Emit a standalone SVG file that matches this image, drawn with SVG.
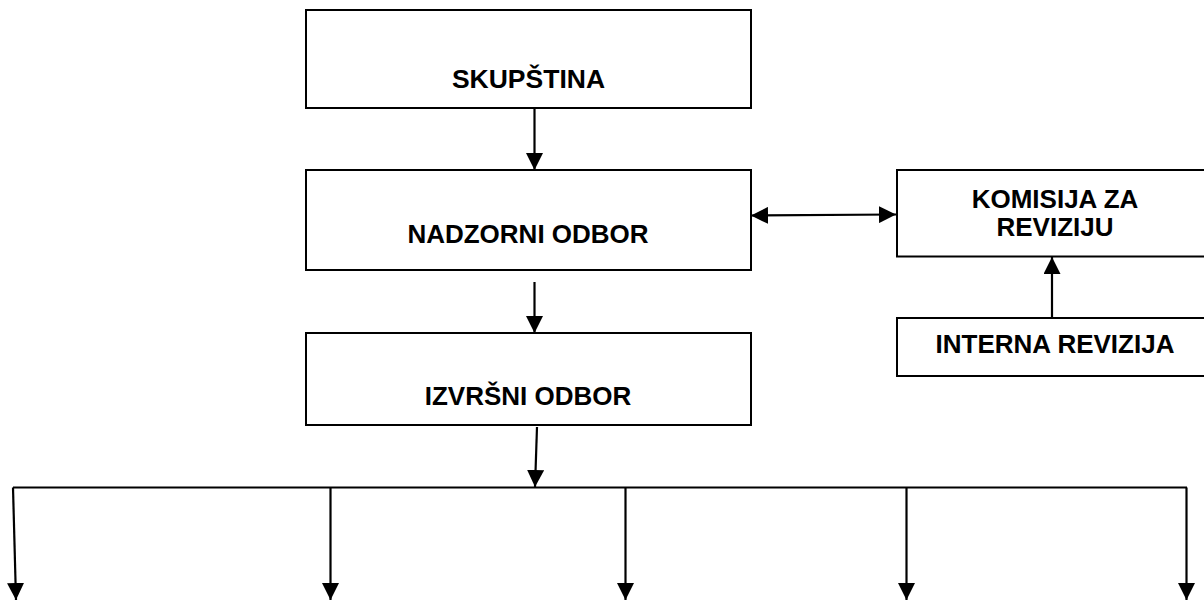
<svg xmlns="http://www.w3.org/2000/svg" width="1204" height="601" viewBox="0 0 1204 601">
<style>
.box{fill:#fff;stroke:#000;stroke-width:2}
.lbl{font-family:"Liberation Sans",Arial,sans-serif;font-weight:bold;font-size:26px;fill:#000;text-anchor:middle}
.con{fill:none;stroke:#000;stroke-width:2.2}
.arr{marker-end:url(#ah)}
</style>
<defs>
<marker id="ah" viewBox="0 0 16 16" refX="16" refY="8" markerWidth="17" markerHeight="17" markerUnits="userSpaceOnUse" orient="auto-start-reverse">
<path d="M0,0 L16,8 L0,16 z" fill="#000"/>
</marker>
</defs>
<rect width="1204" height="601" fill="#fff"/>
<g id="skupstina">
<rect class="box" x="306" y="10" width="445" height="98"/>
<text class="lbl" x="528.5" y="88" style="font-size:26.5px">SKUPŠTINA</text>
</g>
<g id="nadzorni">
<rect class="box" x="306" y="170" width="445" height="100"/>
<text class="lbl" x="528" y="243">NADZORNI ODBOR</text>
</g>
<g id="izvrsni">
<rect class="box" x="306" y="333" width="445" height="92"/>
<text class="lbl" x="528" y="405">IZVRŠNI ODBOR</text>
</g>
<g id="komisija">
<rect class="box" x="897" y="170" width="316" height="86.5"/>
<text class="lbl" x="1055" y="207.5">KOMISIJA ZA</text>
<text class="lbl" x="1055" y="236">REVIZIJU</text>
</g>
<g id="interna">
<rect class="box" x="897" y="318" width="316" height="58"/>
<text class="lbl" x="1055" y="353">INTERNA REVIZIJA</text>
</g>
<g id="connectors">
<line class="con arr" x1="534.5" y1="108" x2="534.5" y2="170"/>
<path class="con" d="M751,215.5 L896,214.5" marker-start="url(#ah)" marker-end="url(#ah)"/>
<line class="con arr" x1="1052" y1="318" x2="1052" y2="257"/>
<line class="con arr" x1="534.5" y1="282" x2="534.5" y2="333"/>
<line class="con arr" x1="537" y1="427" x2="535" y2="487"/>
<polyline class="con" points="13,487.5 1187,487.5"/>
<line class="con arr" x1="13" y1="487.5" x2="16" y2="600"/>
<line class="con arr" x1="330.5" y1="487.5" x2="330.5" y2="600"/>
<line class="con arr" x1="625.5" y1="487.5" x2="625.5" y2="600"/>
<line class="con arr" x1="906.5" y1="487.5" x2="906.5" y2="600"/>
<line class="con arr" x1="1186.5" y1="487.5" x2="1186.5" y2="600"/>
</g>
</svg>
